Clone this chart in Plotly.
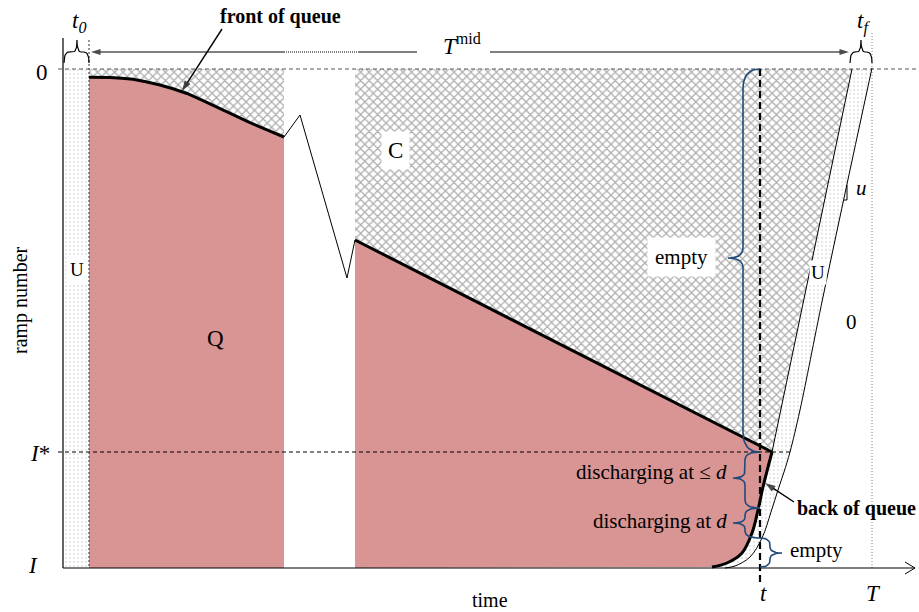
import plotly.graph_objects as go

# ---------------- diagram data (time on x, ramp number on y; y grows downward) ----------------
y_top = 69          # ramp 0
y_istar = 452       # ramp I*
y_bottom = 568      # ramp I
x_axis0 = 63        # time origin
x_t0 = 89           # end of t0
x_tmid_end = 852    # end of T^mid
x_T = 872           # T
x_t = 760           # current time t
gap_x = [284, 355]  # axis break

# front of queue (first part, curved)
front1_x = [89, 100, 110, 122, 133, 146, 160, 173, 187, 202, 217, 233, 250, 267, 284]
front1_y = [77.3, 77.3, 77.5, 78.2, 79.3, 81.8, 85.0, 88.8, 93.5, 100.2, 107.3, 114.8, 122.7, 129.8, 137.0]
# front of queue (second part, straight)
front2_x = [355, 772]
front2_y = [240, 452]
# back of queue
back_x = [772, 763, 758, 752, 742, 727, 712]
back_y = [452, 487, 510, 533, 553, 563, 567]
# left boundary of right U strip
uleft_x = [852, 772]
uleft_y = [69, 452]
# right boundary of right U strip
uright_x = [872, 823, 800, 790, 784, 778, 771, 762, 750, 735, 725]
uright_y = [68, 297, 410, 452, 472, 490, 512, 538, 557, 566, 568]
# break zigzag
zig_x = [284, 300, 347, 355]
zig_y = [137, 115, 278, 240]
# slope marker u
slope_x = [847, 847, 844]
slope_y = [185, 200, 200]

PINK = "#D99494"
BLUE = "#1F4A7A"
FONT = "Liberation Serif"

fig = go.Figure()

hatch = dict(shape="x", size=6, solidity=0.38, fgcolor="#5c5c5c")
dots = dict(shape=".", size=4, solidity=0.12, fgcolor="#8a8a8a")

# left U strip (dotted)
fig.add_trace(go.Scatter(
    x=[x_axis0, x_t0, x_t0, x_axis0, x_axis0], y=[y_top, y_top, y_bottom, y_bottom, y_top],
    mode="lines", line=dict(width=0), fill="toself", fillcolor="white", fillpattern=dots,
    hoverinfo="skip"))

# hatched C region, left part
fig.add_trace(go.Scatter(
    x=[x_t0, gap_x[0]] + front1_x[::-1] + [x_t0],
    y=[y_top, y_top] + front1_y[::-1] + [y_top],
    mode="lines", line=dict(width=0), fill="toself", fillcolor="white", fillpattern=hatch,
    hoverinfo="skip"))
# hatched C region, right part
fig.add_trace(go.Scatter(
    x=[gap_x[1], x_tmid_end] + uleft_x[1:] + front2_x[::-1],
    y=[y_top, y_top] + uleft_y[1:] + front2_y[::-1],
    mode="lines", line=dict(width=0), fill="toself", fillcolor="white", fillpattern=hatch,
    hoverinfo="skip"))

# right U strip (dotted)
fig.add_trace(go.Scatter(
    x=uleft_x + back_x[1:] + uright_x[::-1],
    y=uleft_y + back_y[1:] + uright_y[::-1],
    mode="lines", line=dict(width=0), fill="toself", fillcolor="white", fillpattern=dots,
    hoverinfo="skip"))

# Q region left part
fig.add_trace(go.Scatter(
    x=[x_t0] + front1_x + [gap_x[0], x_t0],
    y=[y_bottom] + front1_y + [y_bottom, y_bottom],
    mode="lines", line=dict(width=0), fill="toself", fillcolor=PINK, hoverinfo="skip"))
# Q region right part
fig.add_trace(go.Scatter(
    x=front2_x + back_x[1:] + [gap_x[1], gap_x[1]],
    y=front2_y + back_y[1:] + [y_bottom, front2_y[0]],
    mode="lines", line=dict(width=0), fill="toself", fillcolor=PINK, hoverinfo="skip"))


def line(x, y, color="black", width=1, dash="solid", shape="linear"):
    fig.add_trace(go.Scatter(x=x, y=y, mode="lines",
                             line=dict(color=color, width=width, dash=dash, shape=shape),
                             hoverinfo="skip"))


def arrow(x, y, width=1.2, size=11):
    """line from first to last point, arrowhead at last point"""
    fig.add_trace(go.Scatter(x=x, y=y, mode="lines+markers",
                             line=dict(color="black", width=width),
                             marker=dict(symbol="arrow", angleref="previous",
                                         size=[0] * (len(x) - 1) + [size], color="black",
                                         line=dict(width=0)),
                             hoverinfo="skip"))


# reference lines
line([58, 919], [y_top, y_top], color="#555", width=1, dash="4px,3px")
line([58, 792], [y_istar, y_istar], color="black", width=1, dash="4px,3px")
line([x_t0, x_t0], [40, y_bottom], color="#333", width=1, dash="2px,2px")
line([x_T, x_T], [33, y_bottom], color="#888", width=1, dash="1px,2px")
# axes
line([x_axis0, x_axis0], [38, y_bottom], width=1.2)
line([x_axis0, 915], [y_bottom, y_bottom], width=1.2)
line([905, 915, 905], [562, 568, 574], width=1)

# boundaries
line(uleft_x, uleft_y, width=1)
line(uright_x, uright_y, width=1, shape="spline")
line(zig_x, zig_y, width=1)
line(slope_x, slope_y, width=1)
line(front1_x, front1_y, width=3)
line(front2_x, front2_y, width=3)
line(back_x, back_y, width=3, shape="spline")

# t vertical dashed
line([x_t, x_t], [y_top, 586], width=2.2, dash="7px,4px")

# T^mid arrow line
arrow([140, 91], [52, 52], width=1, size=10)
line([140, gap_x[0]], [52, 52], width=1)
line([gap_x[0], 358], [52, 52], width=1, dash="1px,1px")
line([358, 417], [52, 52], width=1)
arrow([490, 849], [52, 52], width=1, size=10)

# label arrows
arrow([222, 182], [29, 91], width=1.4, size=11)
arrow([794, 765], [502, 483], width=1.4, size=11)


def qbez(p0, p1, p2, n=10):
    pts = []
    for i in range(n + 1):
        s = i / n
        pts.append(((1 - s) ** 2 * p0[0] + 2 * (1 - s) * s * p1[0] + s ** 2 * p2[0],
                    (1 - s) ** 2 * p0[1] + 2 * (1 - s) * s * p1[1] + s ** 2 * p2[1]))
    return pts


def brace(a0, a1, base, spine, tip, mid, re, rt, vertical=True):
    """brace along axis a from a0 to a1; other coordinate base->spine->tip"""
    pts = []
    pts += qbez((base, a0), (spine, a0), (spine, a0 + re))
    pts += qbez((spine, mid - rt), (spine, mid), (tip, mid))
    pts += qbez((tip, mid), (spine, mid), (spine, mid + rt))
    pts += qbez((spine, a1 - re), (spine, a1), (base, a1))
    if vertical:
        return [p[0] for p in pts], [p[1] for p in pts]
    return [p[1] for p in pts], [p[0] for p in pts]


brace_specs = [  # a0, a1, base, spine, tip, mid, re, rt
    (y_top, y_istar, 760, 743, 728, 258, 20, 10),
    (y_istar, 508, 760, 745, 733, 478, 8, 7),
    (508, 538, 760, 745, 733, 523, 7, 6),
    (538, 567, 760, 770, 782, 553, 7, 6),
]
for s in brace_specs:
    bx, by = brace(*s)
    line(bx, by, color=BLUE, width=1.6)

small_braces = [  # a0, a1 (x), base, spine, tip (y), mid x
    (64, 89, 63, 52, 40, 77, 5, 4),
    (850, 872, 63, 52, 40, 861, 5, 4),
]
for s in small_braces:
    bx, by = brace(*s, vertical=False)
    line(bx, by, color="black", width=1.2)


# ---------------- text ----------------
def txt(x, y, text, size=20, bg=None, xanchor="center", angle=0, pad=1):
    fig.add_annotation(x=x, y=y, text=text, showarrow=False, xanchor=xanchor, yanchor="middle",
                       font=dict(family=FONT, size=size, color="black"),
                       bgcolor=bg, borderpad=pad, textangle=angle)


txt(280, 16, "<b>front of queue</b>", size=20)
txt(856, 508, "<b>back of queue</b>", size=20)
txt(681, 257, "empty", size=21, bg="white", pad=7)
txt(729, 472, "discharging at ≤ <i>d</i>", size=21, xanchor="right")
txt(729, 521, "discharging at <i>d</i>", size=21, xanchor="right")
txt(816, 550, "empty", size=21)
txt(215, 338, "Q", size=23)
txt(395, 150, "C", size=23, bg="white", pad=6)
txt(77, 269, "U", size=19, bg="white", pad=3)
txt(818, 272, "U", size=19, bg="white", pad=1)
txt(851, 322, "0", size=21)
txt(861, 188, "<i>u</i>", size=21)
txt(42, 72, "0", size=23)
txt(40, 453, "<i>I</i>*", size=23)
txt(33, 565, "<i>I</i>", size=23)
txt(763, 593, "<i>t</i>", size=23)
txt(873, 593, "<i>T</i>", size=23)
txt(490, 600, "time", size=20)
txt(20, 300, "ramp number", size=20, angle=-90)
txt(462, 44, "<i>T</i><sup>mid</sup>", size=23, bg="white", pad=4)
txt(79, 22, "<i>t</i><sub><i>0</i></sub>", size=23)
txt(863, 22, "<i>t</i><sub><i>f</i></sub>", size=23)

fig.update_layout(
    width=919, height=612, margin=dict(l=0, r=0, t=0, b=0),
    paper_bgcolor="white", plot_bgcolor="white", showlegend=False,
    xaxis=dict(range=[0, 919], visible=False, fixedrange=True),
    yaxis=dict(range=[612, 0], visible=False, fixedrange=True),
)
fig.write_html("out.html")
